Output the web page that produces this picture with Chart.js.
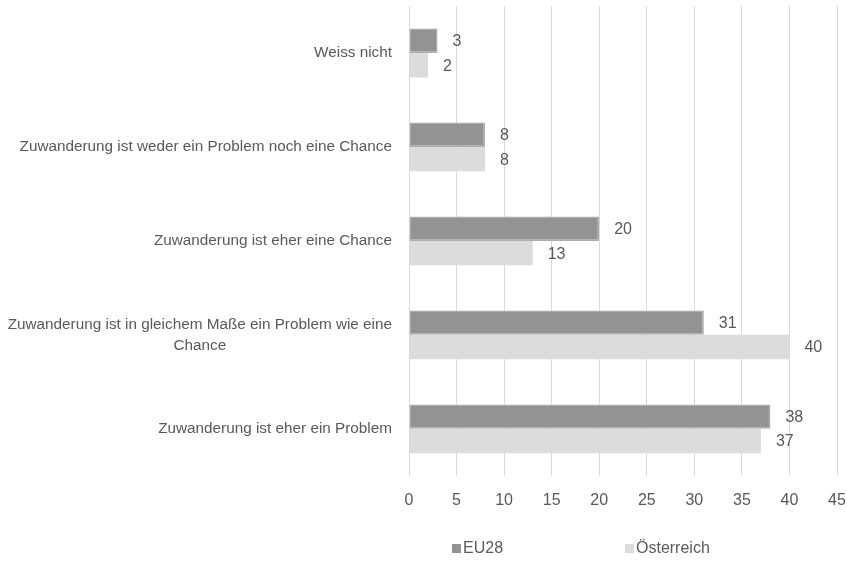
<!DOCTYPE html>
<html lang="de">
<head>
    <meta charset="UTF-8">
    <script src="https://cdn.jsdelivr.net/npm/chart.js"></script>
    <title>Zuwanderung: Problem oder Chance</title>
    <style>
        html, body { margin: 0; padding: 0; background: #fff; }
        #wrap { width: 847px; height: 561px; }
    </style>
</head>
<body>
    <div id="wrap"><canvas id="chart"></canvas></div>

    <script>
        // categories top to bottom
        const categories = [
            'Weiss nicht',
            'Zuwanderung ist weder ein Problem noch eine Chance',
            'Zuwanderung ist eher eine Chance',
            ['Zuwanderung ist in gleichem Maße ein Problem wie eine', 'Chance'],
            'Zuwanderung ist eher ein Problem'
        ];
        const eu28 = [3, 8, 20, 31, 38];
        const oesterreich = [2, 8, 13, 40, 37];
        const seriesNames = ['EU28', 'Österreich'];
        const xTicks = [0, 5, 10, 15, 20, 25, 30, 35, 40, 45];

        const textColor = '#595959';
        const fontFamily = '"Liberation Sans", Arial, sans-serif';
        const labelSize = 15.3;   // category labels
        const fontSize = 16;      // ticks, values, legend

        // the wrapped label is centred line by line in the original;
        // chart.js right-aligns each line, so pad the short line with nbsp
        const measure = document.createElement('canvas').getContext('2d');
        measure.font = labelSize + 'px ' + fontFamily;
        function centreLines(label) {
            if (!Array.isArray(label)) return label;
            const widest = Math.max(...label.map(l => measure.measureText(l).width));
            const nb = measure.measureText('\u00a0').width;
            return label.map(l => {
                const n = Math.round((widest - measure.measureText(l).width) / 2 / nb);
                return l + '\u00a0'.repeat(n);
            });
        }

        // value labels right of each bar
        const valueLabels = {
            id: 'valueLabels',
            afterDatasetsDraw(chart) {
                const ctx = chart.ctx;
                ctx.save();
                ctx.font = fontSize + 'px ' + fontFamily;
                ctx.fillStyle = textColor;
                ctx.textAlign = 'left';
                ctx.textBaseline = 'middle';
                chart.data.datasets.forEach((ds, i) => {
                    chart.getDatasetMeta(i).data.forEach((bar, j) => {
                        ctx.fillText(ds.data[j], bar.x + 15, bar.y + 1);
                    });
                });
                ctx.restore();
            }
        };

        // legend row under the axis, spaced like the original
        const legendRow = {
            id: 'legendRow',
            afterDraw(chart) {
                const ctx = chart.ctx;
                const area = chart.chartArea;
                ctx.save();
                ctx.font = fontSize + 'px ' + fontFamily;
                ctx.textBaseline = 'middle';
                chart.data.datasets.forEach((ds, i) => {
                    const x = area.left + 43 + i * 173;
                    const y = 549;
                    ctx.fillStyle = ds.backgroundColor;
                    ctx.fillRect(x, y - 5, 9, 9);
                    ctx.fillStyle = textColor;
                    ctx.fillText(ds.label, x + 11, y);
                });
                ctx.restore();
            }
        };

        new Chart(document.getElementById('chart'), {
            type: 'bar',
            data: {
                labels: categories.map(centreLines),
                datasets: [
                    {
                        label: seriesNames[0],
                        data: eu28,
                        backgroundColor: '#939395',
                        borderColor: '#adadaf',
                        borderWidth: 1.5,
                        borderSkipped: false,
                        categoryPercentage: 0.52,
                        barPercentage: 1
                    },
                    {
                        label: seriesNames[1],
                        data: oesterreich,
                        backgroundColor: '#dcdcde',
                        borderWidth: 0,
                        categoryPercentage: 0.52,
                        barPercentage: 1
                    }
                ]
            },
            options: {
                indexAxis: 'y',
                responsive: true,
                maintainAspectRatio: false,
                animation: false,
                layout: { padding: { left: 0, right: 10, top: 6, bottom: 50 } },
                plugins: {
                    legend: { display: false },
                    tooltip: { enabled: false }
                },
                scales: {
                    x: {
                        min: 0,
                        max: 45,
                        afterBuildTicks: (scale) => { scale.ticks = xTicks.map(v => ({ value: v })); },
                        afterFit: (scale) => { scale.paddingLeft = 0; scale.paddingRight = 0; },
                        grid: { color: '#d9d9d9', lineWidth: 1, drawTicks: true, tickLength: 14, tickColor: 'rgba(0,0,0,0)' },
                        border: { display: false },
                        ticks: {
                            color: textColor,
                            padding: 1,
                            font: { family: fontFamily, size: fontSize }
                        }
                    },
                    y: {
                        afterFit: (scale) => { scale.width = 409; scale.paddingTop = 0; scale.paddingBottom = 0; },
                        grid: { display: false, drawTicks: true, tickLength: 17 },
                        border: { display: false },
                        ticks: {
                            color: textColor,
                            padding: 0,
                            font: { family: fontFamily, size: labelSize, lineHeight: 1.38 }
                        }
                    }
                }
            },
            plugins: [valueLabels, legendRow]
        });
    </script>
</body>
</html>
